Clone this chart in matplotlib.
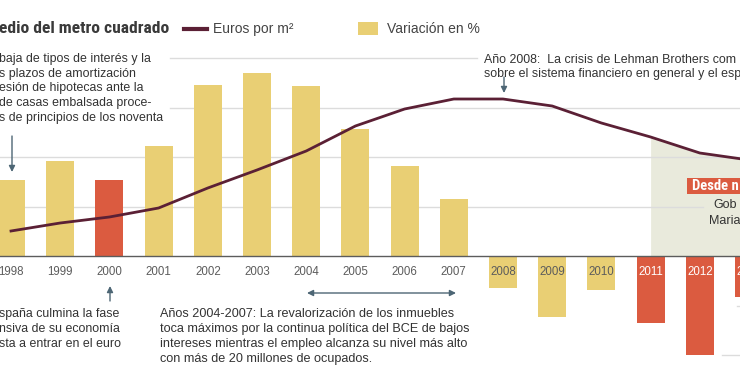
import matplotlib
matplotlib.use('Agg')
import matplotlib.pyplot as plt

# ============================================================
#  datos
# ============================================================
years = list(range(1998, 2014))
# variación anual del precio (%)
variacion = [7.7, 9.6, 7.7, 11.1, 17.3, 18.5, 17.2, 12.8, 9.1, 5.8,
             -3.2, -6.2, -3.4, -6.8, -10.0, -4.1]
# precio medio (euros por m²)
euros_m2 = [700, 780, 840, 930, 1130, 1310, 1500, 1750, 1920, 2020,
            2020, 1950, 1780, 1640, 1480, 1410]
# años destacados en rojo
rojos = [2000, 2011, 2012, 2013]
year_labels = [str(y) for y in years]

# ============================================================
#  estilo
# ============================================================
W, H = 740, 389
AMARILLO = '#e9cf74'
ROJO = '#db5b40'
GRANATE = '#5b2035'
GRIS_TXT = '#333333'
GRIS_AX = '#5c5c5c'
FLECHA = '#4d6675'
SOMBRA = '#e9eadc'
ESTRECHA = ['Roboto Condensed', 'Roboto', 'DejaVu Sans']
plt.rcParams['font.family'] = ['Liberation Sans', 'DejaVu Sans']

fig = plt.figure(figsize=(W / 100, H / 100), dpi=100)
ax = fig.add_axes([0, 0, 1, 1])
ax.set_xlim(1997.776, 2012.817)
ax.set_ylim(-13.434, 25.859)
ax.axis('off')

# eje secundario para los euros (solo escala)
ax2 = ax.twinx()
ax2.set_ylim(-880, 3010)
ax2.axis('off')


def fx(x):
    return x / W


def fy(y):
    return 1 - y / H


# líneas de referencia
for val, x0, x1 in [(20, 170, 477), (15, 170, 740), (10, 0, 740),
                    (5, 0, 703), (-5, 737, 740), (-10, 722, 740)]:
    ax.axhline(val, xmin=x0 / W, xmax=x1 / W, color='#dcdcdc', lw=1, zorder=1)

# sombreado bajo la curva desde 2011
ax.fill_between(years[13:], euros_m2[13:], 450, color=SOMBRA, lw=0,
                zorder=0.5, transform=ax2.transData)

# barras
colores = [ROJO if y in rojos else AMARILLO for y in years]
ax.bar(years, variacion, width=0.57, color=colores, zorder=2)
ax.axhline(0, color=GRIS_AX, lw=1, zorder=3)

# curva de euros por m²
ax.plot(years, euros_m2, color=GRANATE, lw=2, zorder=4,
        transform=ax2.transData, solid_joinstyle='round')

# etiquetas de años
for y, lab, v in zip(years, year_labels, variacion):
    if y in rojos and v < 0:
        c = 'white'
    else:
        c = GRIS_AX
    ax.text(y, -1.6, lab, ha='center', va='center', fontsize=8.3,
            color=c, zorder=5)

# título y leyenda
fig.text(fx(-1), fy(33), 'edio del metro cuadrado', fontsize=12.6,
         fontweight='bold', color='#3a3a3a', family=ESTRECHA,
         va='baseline')
fig.add_artist(plt.Line2D([fx(184), fx(207)], [fy(29), fy(29)],
                          color=GRANATE, lw=3))
fig.text(fx(213), fy(33), 'Euros por m²', fontsize=10, color='#444444',
         va='baseline')
fig.add_artist(plt.Rectangle((fx(358), fy(35)), 20 / W, 13 / H,
                             color=AMARILLO, lw=0))
fig.text(fx(387), fy(33), 'Variación en %', fontsize=10, color='#444444',
         va='baseline')

# anotaciones
FS = 8.9
nota_1998 = ['baja de tipos de interés y la', 's plazos de amortización',
             'esión de hipotecas ante la', 'de casas embalsada proce-',
             's de principios de los noventa']
for i, t in enumerate(nota_1998):
    fig.text(fx(-1), fy(62 + i * 14.7), t, fontsize=FS, color=GRIS_TXT,
             va='baseline')

nota_2000 = ['spaña culmina la fase', 'nsiva de su economía',
             'sta a entrar en el euro']
for i, t in enumerate(nota_2000):
    fig.text(fx(-1), fy(317 + i * 15), t, fontsize=FS, color=GRIS_TXT,
             va='baseline')

nota_2004 = ['Años 2004-2007: La revalorización de los inmuebles',
             'toca máximos por la continua política del BCE de bajos',
             'intereses mientras el empleo alcanza su nivel más alto',
             'con más de 20 millones de ocupados.']
for i, t in enumerate(nota_2004):
    fig.text(fx(160), fy(317 + i * 15), t, fontsize=9.1, color=GRIS_TXT,
             va='baseline')

nota_2008 = ['Año 2008:  La crisis de Lehman Brothers com',
             'sobre el sistema financiero en general y el esp']
for i, t in enumerate(nota_2008):
    fig.text(fx(484), fy(63 + i * 14.5), t, fontsize=FS, color=GRIS_TXT,
             va='baseline')

# recuadro "Desde ..."
fig.add_artist(plt.Rectangle((fx(687), fy(194)), 53 / W, 16 / H,
                             color=ROJO, lw=0))
fig.text(fx(692), fy(186), 'Desde n', fontsize=10.5, fontweight='bold',
         color='white', va='center', family=ESTRECHA)
fig.text(fx(713), fy(205), 'Gob', fontsize=9, color=GRIS_TXT, va='center')
fig.text(fx(709), fy(221), 'Maria', fontsize=9, color=GRIS_TXT, va='center')

# flechas
flecha = dict(arrowstyle='-|>', color=FLECHA, lw=1, mutation_scale=9,
              shrinkA=0, shrinkB=0)
for (x0, y0), (x1, y1) in [((12, 136), (12, 172)), ((110, 301), (110, 286)),
                           ((504, 77), (504, 93))]:
    ax.annotate('', xy=(fx(x1), fy(y1)), xytext=(fx(x0), fy(y0)),
                xycoords='figure fraction', textcoords='figure fraction',
                arrowprops=flecha)
ax.annotate('', xy=(fx(456), fy(293)), xytext=(fx(307), fy(293)),
            xycoords='figure fraction', textcoords='figure fraction',
            arrowprops=dict(arrowstyle='<|-|>', color=FLECHA, lw=1,
                            mutation_scale=9, shrinkA=0, shrinkB=0))

fig.savefig('out.png', dpi=100)
